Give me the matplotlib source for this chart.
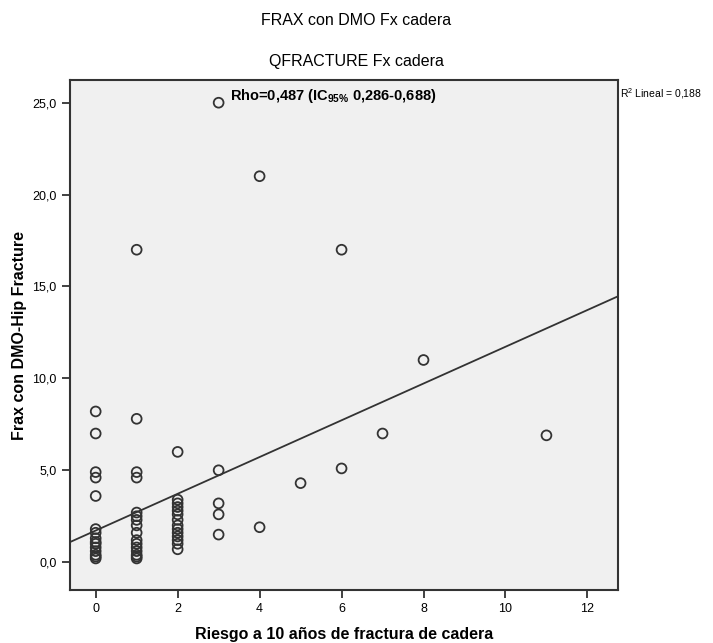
import numpy as np
import matplotlib
matplotlib.use("Agg")
import matplotlib.pyplot as plt

plt.rcParams['font.family'] = ['Liberation Sans', 'DejaVu Sans']
plt.rcParams['mathtext.fontset'] = 'custom'
plt.rcParams['mathtext.rm'] = 'Liberation Sans'
plt.rcParams['mathtext.bf'] = 'Liberation Sans:bold'
plt.rcParams['mathtext.default'] = 'bf'

# datos: riesgo QFRACTURE (x) vs FRAX con DMO (y)
x0 = [0] * 15
y0 = [8.2, 7.0, 4.9, 4.6, 3.6, 1.8, 1.6, 1.3, 1.1, 1.0, 0.8, 0.6, 0.4, 0.3, 0.2]
x1 = [1] * 16
y1 = [17.0, 7.8, 4.9, 4.6, 2.7, 2.5, 2.3, 2.0, 1.6, 1.2, 1.0, 0.8, 0.6, 0.4, 0.3, 0.2]
x2 = [2] * 14
y2 = [6.0, 3.4, 3.2, 3.0, 2.8, 2.6, 2.3, 2.0, 1.8, 1.6, 1.4, 1.2, 1.0, 0.7]
xr = [3, 3, 3, 3, 3, 4, 4, 5, 6, 6, 7, 8, 11]
yr = [25.0, 5.0, 3.2, 2.6, 1.5, 21.0, 1.9, 4.3, 17.0, 5.1, 7.0, 11.0, 6.9]

xs = np.array(x0 + x1 + x2 + xr)
ys = np.array(y0 + y1 + y2 + yr)

# recta de regresion
intercept = 1.72
slope = 1.0

xticks = [0, 2, 4, 6, 8, 10, 12]
yticks = [0, 5, 10, 15, 20, 25]

fig = plt.figure(figsize=(7.13, 6.43), dpi=100)
ax = fig.add_axes([0.098, 0.082, 0.769, 0.794])
ax.set_facecolor('#f0f0f0')

ax.scatter(xs, ys, s=50, facecolors='none', edgecolors='#333333', linewidths=1.3, zorder=3)

xmin, xmax = -0.63, 12.75
xl = np.array([xmin, xmax])
ax.plot(xl, intercept + slope * xl, color='#333333', lw=1.3, zorder=2)

ax.set_xlim(xmin, xmax)
ax.set_ylim(-1.53, 26.25)
ax.set_xticks(xticks)
ax.set_xticklabels([str(t) for t in xticks], fontsize=9)
ax.set_yticks(yticks)
ax.set_yticklabels([("%.1f" % t).replace('.', ',') for t in yticks], fontsize=9)
ax.tick_params(direction='out', length=6, width=1.3, color='#333333')
for sp in ax.spines.values():
    sp.set_linewidth(1.5)
    sp.set_color('#333333')

ax.set_xlabel("Riesgo a 10 años de fractura de cadera", fontsize=11.5, fontweight='bold', labelpad=8)
ax.set_ylabel("Frax con DMO-Hip Fracture", fontsize=11.5, fontweight='bold', labelpad=4)

ax.text(3.27, 25.35, r"Rho=0,487 (IC$_{95\%}$ 0,286-0,688)", fontsize=10.5, fontweight='bold', va='center')

fig.text(0.5, 0.968, "FRAX con DMO Fx cadera", fontsize=11.5, ha='center', va='center')
fig.text(0.5, 0.905, "QFRACTURE Fx cadera", fontsize=11.5, ha='center', va='center')
fig.text(0.870, 0.855, r"R$^{\mathrm{2}}$ Lineal = 0,188", fontsize=7.5, ha='left', va='center')

fig.savefig("out.png", dpi=100)
